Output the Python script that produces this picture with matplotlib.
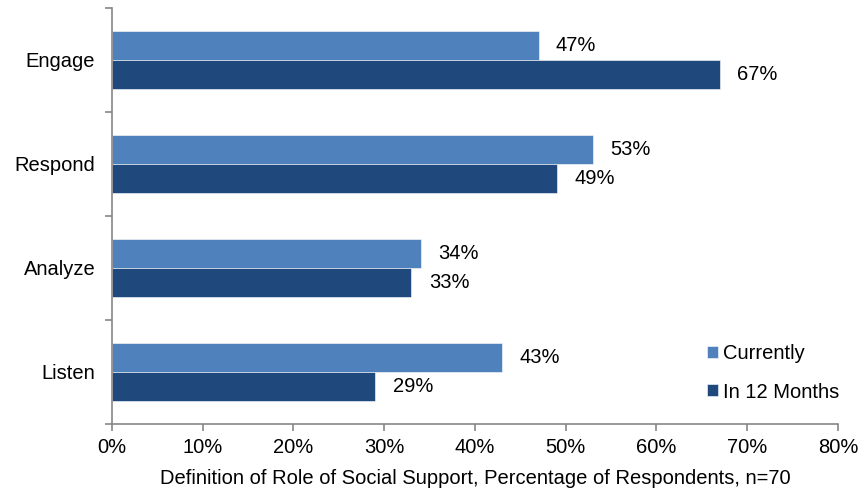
import matplotlib
matplotlib.use("Agg")
import matplotlib.pyplot as plt
import numpy as np

plt.rcParams["font.family"] = ["Liberation Sans", "DejaVu Sans"]

categories = ["Engage", "Respond", "Analyze", "Listen"]
currently = [47, 53, 34, 43]
in_12_months = [67, 49, 33, 29]
series_names = ["Currently", "In 12 Months"]
x_ticks = [0, 10, 20, 30, 40, 50, 60, 70, 80]
x_label = "Definition of Role of Social Support, Percentage of Respondents, n=70"

LIGHT = "#4F81BD"
DARK = "#1F497D"
AXIS_GRAY = "#868686"
FS = 14.5

fig = plt.figure(figsize=(8.6, 4.9), dpi=100)
ax = fig.add_axes([0.1302, 0.1347, 0.8442, 0.849])

y = np.arange(len(categories))
h = 0.28
b1 = ax.barh(y - h / 2, currently, height=h, color=LIGHT, label=series_names[0],
             edgecolor="white", linewidth=0.4)
b2 = ax.barh(y + h / 2, in_12_months, height=h, color=DARK, label=series_names[1],
             edgecolor="white", linewidth=0.4)

for bars, vals in ((b1, currently), (b2, in_12_months)):
    for bar, v in zip(bars, vals):
        ax.annotate(f"{v}%", (v, bar.get_y() + bar.get_height() / 2),
                    xytext=(12.5, 0), textcoords="offset points",
                    ha="left", va="center", fontsize=FS)

ax.set_xlim(0, 80)
ax.set_ylim(len(categories) - 0.5, -0.5)
ax.set_xticks(x_ticks)
ax.set_xticklabels([f"{t}%" for t in x_ticks], fontsize=FS)
ax.set_yticks(y)
ax.set_yticklabels(categories, fontsize=FS)
ax.tick_params(axis="y", length=0, pad=12)
ax.set_yticks(np.arange(-0.5, len(categories)), minor=True)
ax.tick_params(axis="y", which="minor", length=5, color=AXIS_GRAY, width=1.2)
ax.tick_params(axis="x", length=5, color=AXIS_GRAY, width=1.2, pad=5)
ax.set_xlabel(x_label, fontsize=FS, labelpad=9)

for s in ("top", "right"):
    ax.spines[s].set_visible(False)
for s in ("left", "bottom"):
    ax.spines[s].set_color(AXIS_GRAY)
    ax.spines[s].set_linewidth(1.2)

ax.legend(loc="lower right", bbox_to_anchor=(1.018, 0.025), frameon=False,
          fontsize=FS, handlelength=0.55, handleheight=0.55, handletextpad=0.25,
          labelspacing=0.95, borderaxespad=0.2)

fig.savefig("out.png", dpi=100)
